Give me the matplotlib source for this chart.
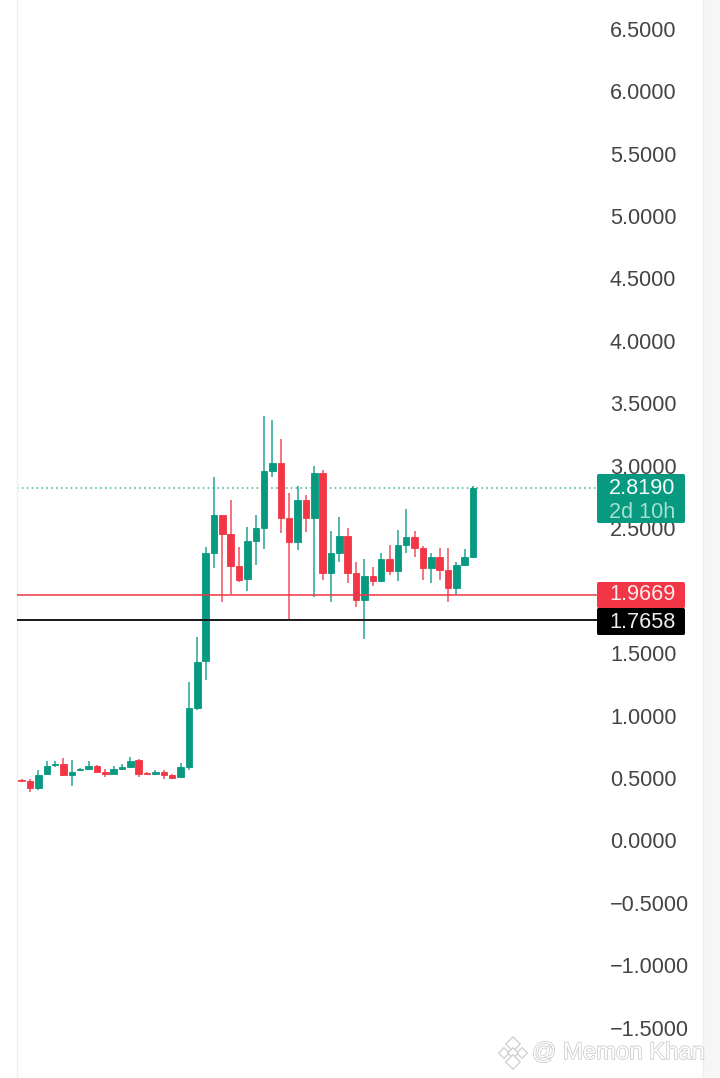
import matplotlib
matplotlib.use("Agg")
import matplotlib.pyplot as plt
import matplotlib.patheffects as pe
from matplotlib.patches import FancyBboxPatch, Rectangle

# price per candle
opens = [0.488, 0.479, 0.418, 0.530, 0.602, 0.612, 0.524, 0.562, 0.570, 0.599,
         0.548, 0.535, 0.572, 0.586, 0.645, 0.543, 0.535, 0.551, 0.522, 0.506,
         0.588, 1.061, 1.437, 2.299, 2.606, 2.452, 2.200, 2.094, 2.398, 2.504,
         2.958, 3.025, 2.584, 2.392, 2.726, 2.580, 2.940, 2.139, 2.299, 2.440,
         2.139, 1.926, 2.120, 2.078, 2.254, 2.158, 2.368, 2.427, 2.344, 2.179,
         2.267, 2.166, 2.019, 2.206, 2.272]
highs = [0.492, 0.492, 0.564, 0.639, 0.639, 0.661, 0.645, 0.583, 0.634, 0.607,
         0.572, 0.599, 0.612, 0.666, 0.652, 0.548, 0.564, 0.564, 0.532, 0.623,
         1.269, 1.632, 2.352, 2.913, 2.606, 2.726, 2.352, 2.512, 2.606, 3.401,
         3.367, 3.215, 2.785, 2.838, 2.766, 3.001, 2.966, 2.478, 2.592, 2.504,
         2.232, 2.251, 2.187, 2.299, 2.366, 2.486, 2.654, 2.480, 2.358, 2.299,
         2.339, 2.339, 2.232, 2.331, 2.841]
lows = [0.468, 0.388, 0.404, 0.524, 0.586, 0.516, 0.439, 0.556, 0.564, 0.546,
        0.506, 0.530, 0.564, 0.578, 0.511, 0.524, 0.530, 0.490, 0.495, 0.503,
        0.564, 1.045, 1.285, 2.179, 1.907, 1.971, 2.072, 1.998, 2.206, 2.334,
        2.913, 2.464, 1.765, 2.326, 2.472, 1.952, 2.086, 1.907, 2.227, 2.059,
        1.867, 1.613, 2.038, 2.067, 2.126, 2.080, 2.304, 2.267, 2.086, 2.064,
        2.086, 1.912, 1.966, 2.200, 2.259]
closes = [0.476, 0.418, 0.524, 0.599, 0.612, 0.524, 0.551, 0.572, 0.599, 0.551,
          0.530, 0.570, 0.586, 0.639, 0.532, 0.532, 0.548, 0.522, 0.503, 0.591,
          1.061, 1.431, 2.299, 2.606, 2.452, 2.200, 2.086, 2.400, 2.504, 2.961,
          3.025, 2.580, 2.392, 2.726, 2.580, 2.940, 2.139, 2.299, 2.440, 2.139,
          1.926, 2.120, 2.078, 2.251, 2.158, 2.368, 2.427, 2.344, 2.179, 2.267,
          2.166, 2.019, 2.206, 2.272, 2.819]

y_ticks = [-1.5, -1.0, -0.5, 0.0, 0.5, 1.0, 1.5, 2.0, 2.5, 3.0, 3.5, 4.0, 4.5, 5.0, 5.5, 6.0, 6.5]
hidden_ticks = [2.0]
last_price = 2.8190
red_level = 1.9669
black_level = 1.7658
countdown = "2d 10h"
watermark = "Memon Khan"

GREEN = "#089981"
RED = "#f23645"
W, H = 720, 1078

plt.rcParams["font.family"] = ["Liberation Sans", "DejaVu Sans"]

fig = plt.figure(figsize=(W / 100, H / 100), dpi=100, facecolor="white")
fig.add_artist(Rectangle((703 / W, 0), 17 / W, 1, transform=fig.transFigure,
                         color="#f6f6f6", zorder=0))
ax = fig.add_axes([17 / W, 0, 686 / W, 1])
ax.set_xlim(-0.562, 81.5)
ax.set_ylim(-1.9016, 6.729)

# candles
for i in range(len(opens)):
    up = closes[i] >= opens[i]
    c = GREEN if up else RED
    ax.vlines(i, lows[i], highs[i], color=c, lw=1.3, alpha=0.75, zorder=3)
    ax.bar(i, abs(closes[i] - opens[i]), bottom=min(opens[i], closes[i]),
           width=0.78, color=c, edgecolor=c, linewidth=0.6, zorder=4)

# price lines stop at the label column
line_end = (596 - 17) / 686
ax.axhline(last_price, xmax=line_end, color=GREEN, lw=1.1, ls=(0, (1, 2.2)), alpha=0.8, zorder=2)
ax.axhline(red_level, xmax=line_end, color=RED, lw=1.3, alpha=0.85, zorder=5)
ax.axhline(black_level, xmax=line_end, color="#1a1a1a", lw=1.4, zorder=5)

# axis
labels = ["" if v in hidden_ticks else f"{v:.4f}".replace("-", "\u2212") for v in y_ticks]
ax.yaxis.tick_right()
ax.set_yticks(y_ticks, labels)
ax.set_xticks([])
ax.tick_params(axis="y", length=0, pad=-67, labelsize=15.6, labelcolor="#444444")
for s in ["top", "bottom"]:
    ax.spines[s].set_visible(False)
for s in ["left", "right"]:
    ax.spines[s].set_color("#eeeeee")
    ax.spines[s].set_linewidth(1)


def px_box(x0, y0, x1, y1, color):
    # label box given in picture pixels, y down
    fig.add_artist(FancyBboxPatch((x0 / W, 1 - y1 / H), (x1 - x0) / W, (y1 - y0) / H,
                                  boxstyle="round,pad=0,rounding_size=0.002",
                                  transform=fig.transFigure, color=color, lw=0, zorder=6))


def px_text(x, y, s, color, size=15.6, **kw):
    fig.text(x / W, 1 - y / H, s, color=color, fontsize=size, ha="center", va="center", zorder=7, **kw)


px_box(597, 474, 685, 523, GREEN)
px_box(597, 582, 685, 608, RED)
px_box(597, 608, 685, 635, "#000000")
px_text(642.5, 489, f"{last_price:.4f}", "#f4fbf9")
px_text(642.5, 512, countdown, "#a5e0d2")
px_text(642.5, 595, f"{red_level:.4f}", "#fdeced")
px_text(642.5, 622.5, f"{black_level:.4f}", "#eeeeee")

# watermark, outlined white text and the small diamond logo
outline = [pe.withStroke(linewidth=1.1, foreground="#c9c9c9")]
px_text(618.5, 1053, "@ " + watermark, "white", size=17.2, path_effects=outline)
logo_ax = fig.add_axes([0, 0, 1, 1], facecolor="none")
logo_ax.set_xlim(0, W)
logo_ax.set_ylim(H, 0)
logo_ax.axis("off")
logo_x = [513, 504, 522, 513, 513]
logo_y = [1044, 1053, 1053, 1053, 1062]
logo_s = [55, 30, 30, 28, 55]
logo_ax.scatter(logo_x, logo_y, s=logo_s, marker="D", facecolor="white",
                edgecolor="#d2d2d2", linewidth=1.0)

fig.savefig("out.png", dpi=100, facecolor=fig.get_facecolor())
